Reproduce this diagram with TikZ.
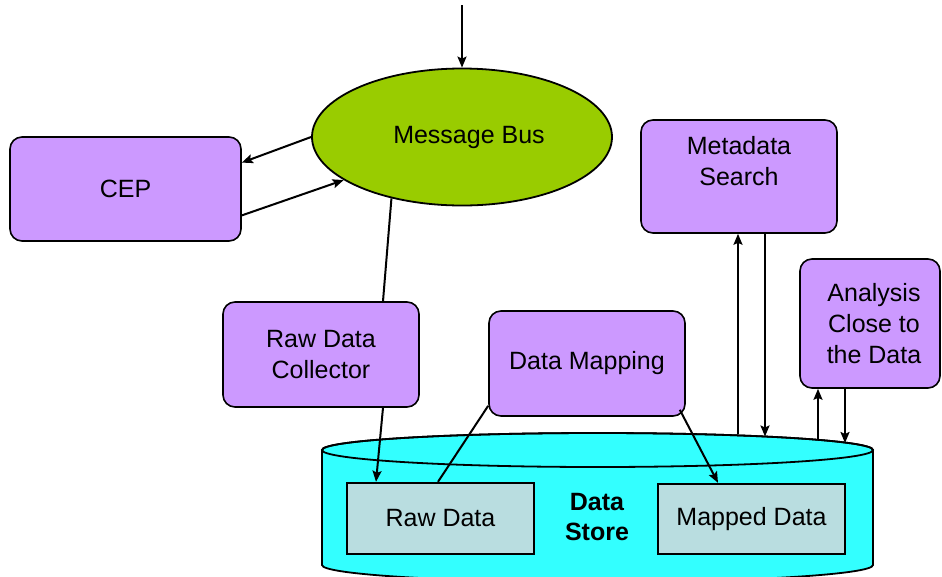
\documentclass[tikz,border=0pt]{standalone}
\usepackage{fontspec}
\setmainfont{Liberation Sans}
\usetikzlibrary{arrows.meta,shapes.geometric,calc}
\definecolor{boxpurple}{HTML}{CC99FF}
\definecolor{busgreen}{HTML}{99CC00}
\definecolor{cylcyan}{HTML}{33FFFF}
\definecolor{datafill}{HTML}{B9DDE0}
\tikzset{
  pbox/.style={draw=black, fill=boxpurple, line width=1.6pt, rounded corners=12pt,
    inner sep=0pt, align=center, minimum width=196pt, minimum height=105pt},
  dbox/.style={draw=black, fill=datafill, line width=2.4pt, inner sep=0pt,
    align=center, minimum width=187pt, minimum height=70pt},
  arr/.style={line width=2pt, -{Stealth[length=11pt,width=9pt,inset=2pt]}},
  ln/.style={line width=2pt},
}
\begin{document}
\begin{tikzpicture}[x=1pt,y=-1pt,font=\fontsize{25}{31}\selectfont]
\useasboundingbox (0,0) rectangle (942,576);
% data store cylinder
\path[draw=black, fill=cylcyan, line width=1.8pt] (322,450) -- (322,565)
  arc[start angle=180, end angle=0, x radius=275.5, y radius=17] -- (873,450)
  arc[start angle=0, end angle=-180, x radius=275.5, y radius=17] -- cycle;
\draw[line width=1.8pt] (597.5,450) ellipse [x radius=275.5, y radius=17];
\node[font=\fontsize{25}{30}\selectfont\bfseries, align=center] (store) at (597,517) {Data\\Store};
% nodes
\node[ellipse, draw=black, fill=busgreen, line width=1.8pt, minimum width=300pt,
  minimum height=137pt, inner sep=0pt] (bus) at (462,137) {\hspace*{14pt}Message Bus\\[-4pt]~};
\node[pbox, minimum width=231pt, minimum height=104pt] (cep) at (125.5,189) {CEP};
\node[pbox, minimum height=113pt] (meta) at (739,176.5) {Metadata\\Search\\~};
\node[pbox] (rdc) at (321,354.5) {Raw Data\\Collector};
\node[pbox] (dm) at (587,363.5) {Data Mapping};
\node[pbox, minimum width=140pt, minimum height=129pt] (ana) at (870,323.5) {\hspace*{8pt}Analysis\\\hspace*{8pt}Close to\\\hspace*{8pt}the Data};
\node[dbox, minimum height=71pt] (raw) at (440.5,518.5) {Raw Data};
\node[dbox] (mapped) at (751.5,519) {Mapped Data};
% connectors
\coordinate (topin) at (462,5);
\draw[arr] (topin) -- (bus.north);
\draw[arr] (bus.west) -- ($(cep.north east)!0.25!(cep.south east)$);
\draw[arr] ($(cep.north east)!0.75!(cep.south east)$) -- (bus.200);
\draw[ln] (bus.221) -- ([xshift=62pt]rdc.north);
\draw[arr] ([xshift=62pt]rdc.south) -- ([xshift=-64.5pt]raw.north);
\draw[ln] ([yshift=11pt]dm.south west) -- ([xshift=-2.5pt]raw.north);
\draw[arr] ([xshift=-6pt,yshift=7pt]dm.south east) -- ([xshift=-33.5pt]mapped.north);
\coordinate (s1) at (738,434);
\coordinate (s2) at (765,436.5);
\coordinate (s3) at (818,440);
\coordinate (s4) at (845,443);
\draw[arr] (s1) -- (s1 |- meta.south);
\draw[arr] (s2 |- meta.south) -- (s2);
\draw[arr] (s3) -- (s3 |- ana.south);
\draw[arr] (s4 |- ana.south) -- (s4);
\end{tikzpicture}
\end{document}
